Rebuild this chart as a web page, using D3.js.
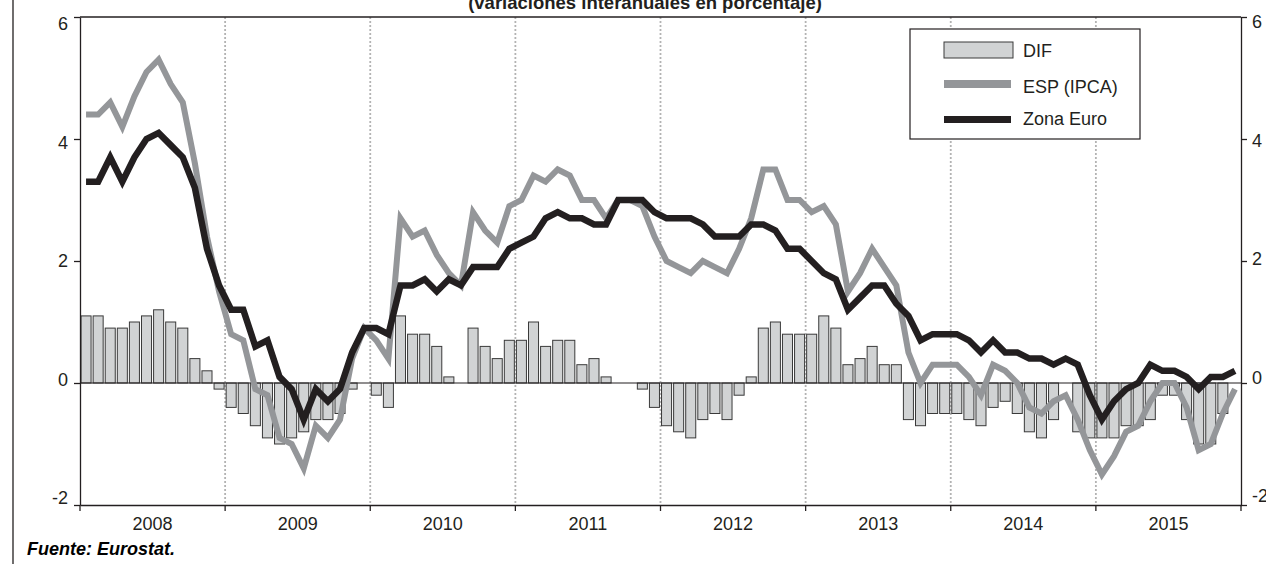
<!DOCTYPE html>
<html>
<head>
<meta charset="utf-8">
<script src="https://cdn.jsdelivr.net/npm/d3@7"></script>
<style>
  body { margin: 0; background: #fff; }
  svg { display: block; font-family: "Liberation Sans", Arial, sans-serif; }
</style>
</head>
<body>
<svg id="chart" width="1266" height="564"></svg>
<script>
// data (monthly, Jan 2008 - Dec 2015)
const years = ["2008", "2009", "2010", "2011", "2012", "2013", "2014", "2015"];
const yTicks = [-2, 0, 2, 4, 6];
const seriesNames = ["DIF", "ESP (IPCA)", "Zona Euro"];

const zonaEuro = [
  3.3, 3.3, 3.7, 3.3, 3.7, 4.0, 4.1, 3.9, 3.7, 3.2, 2.2, 1.6,
  1.2, 1.2, 0.6, 0.7, 0.1, -0.1, -0.6, -0.1, -0.3, -0.1, 0.5, 0.9,
  0.9, 0.8, 1.6, 1.6, 1.7, 1.5, 1.7, 1.6, 1.9, 1.9, 1.9, 2.2,
  2.3, 2.4, 2.7, 2.8, 2.7, 2.7, 2.6, 2.6, 3.0, 3.0, 3.0, 2.8,
  2.7, 2.7, 2.7, 2.6, 2.4, 2.4, 2.4, 2.6, 2.6, 2.5, 2.2, 2.2,
  2.0, 1.8, 1.7, 1.2, 1.4, 1.6, 1.6, 1.3, 1.1, 0.7, 0.8, 0.8,
  0.8, 0.7, 0.5, 0.7, 0.5, 0.5, 0.4, 0.4, 0.3, 0.4, 0.3, -0.2,
  -0.6, -0.3, -0.1, 0.0, 0.3, 0.2, 0.2, 0.1, -0.1, 0.1, 0.1, 0.2
];

const espIpca = [
  4.4, 4.4, 4.6, 4.2, 4.7, 5.1, 5.3, 4.9, 4.6, 3.6, 2.4, 1.5,
  0.8, 0.7, -0.1, -0.2, -0.9, -1.0, -1.4, -0.7, -0.9, -0.6, 0.4, 0.9,
  0.7, 0.4, 2.7, 2.4, 2.5, 2.1, 1.8, 1.6, 2.8, 2.5, 2.3, 2.9,
  3.0, 3.4, 3.3, 3.5, 3.4, 3.0, 3.0, 2.7, 3.0, 3.0, 2.9, 2.4,
  2.0, 1.9, 1.8, 2.0, 1.9, 1.8, 2.2, 2.7, 3.5, 3.5, 3.0, 3.0,
  2.8, 2.9, 2.6, 1.5, 1.8, 2.2, 1.9, 1.6, 0.5, 0.0, 0.3, 0.3,
  0.3, 0.1, -0.2, 0.3, 0.2, 0.0, -0.4, -0.5, -0.3, -0.2, -0.6, -1.1,
  -1.5, -1.2, -0.8, -0.7, -0.3, 0.0, 0.0, -0.4, -1.1, -1.0, -0.5, -0.1
];

const dif = [
  1.1, 1.1, 0.9, 0.9, 1.0, 1.1, 1.2, 1.0, 0.9, 0.4, 0.2, -0.1,
  -0.4, -0.5, -0.7, -0.9, -1.0, -0.9, -0.8, -0.6, -0.6, -0.5, -0.1, 0,
  -0.2, -0.4, 1.1, 0.8, 0.8, 0.6, 0.1, 0, 0.9, 0.6, 0.4, 0.7,
  0.7, 1.0, 0.6, 0.7, 0.7, 0.3, 0.4, 0.1, 0, 0, -0.1, -0.4,
  -0.7, -0.8, -0.9, -0.6, -0.5, -0.6, -0.2, 0.1, 0.9, 1.0, 0.8, 0.8,
  0.8, 1.1, 0.9, 0.3, 0.4, 0.6, 0.3, 0.3, -0.6, -0.7, -0.5, -0.5,
  -0.5, -0.6, -0.7, -0.4, -0.3, -0.5, -0.8, -0.9, -0.6, 0, -0.8, -0.9,
  -0.9, -0.9, -0.7, -0.7, -0.6, -0.2, -0.2, -0.6, -1.0, -1.0, -0.5, 0
];

const ink = "#231f20";
const barFill = "#d1d3d4";
const espColor = "#949699";

const svg = d3.select("#chart");
const width = 1266, height = 564;
const margin = { top: 17, right: 25, bottom: 59, left: 80 };
const innerW = width - margin.left - margin.right;
const innerH = height - margin.top - margin.bottom;

const months = d3.range(zonaEuro.length);
const x = d3.scaleBand().domain(months).range([0, innerW])
  .paddingInner(0.17).paddingOuter(0.085);
const xYear = d3.scaleBand().domain(years).range([0, innerW]);
const y = d3.scaleLinear().domain([-2, 6]).range([innerH, 0]);
// tick labels sit a little closer together than the ticks themselves
const yLabel = d3.scaleLinear().domain([-2, 6]).range([innerH - 7, 7]);

svg.append("rect").attr("width", width).attr("height", height).attr("fill", "#fff");

// left page rule
svg.append("line")
  .attr("x1", 13).attr("x2", 13).attr("y1", 0).attr("y2", height)
  .attr("stroke", ink).attr("stroke-width", 1.3);

// title (cut by the top edge, as in the source)
svg.append("text")
  .attr("x", 645).attr("y", 9)
  .attr("text-anchor", "middle")
  .style("font-size", "18.5px").style("font-weight", "bold").style("fill", ink)
  .text("(variaciones interanuales en porcentaje)");

const g = svg.append("g").attr("transform", `translate(${margin.left},${margin.top})`);

// dotted year separators
g.selectAll(".year-line")
  .data(years.slice(1))
  .enter().append("line")
    .attr("class", "year-line")
    .attr("x1", d => xYear(d)).attr("x2", d => xYear(d))
    .attr("y1", 0).attr("y2", innerH)
    .attr("stroke", "#b3b3b3").attr("stroke-width", 1.8)
    .attr("stroke-dasharray", "2,2");

// top frame line
g.append("line")
  .attr("x1", 0).attr("x2", innerW).attr("y1", 0).attr("y2", 0)
  .attr("stroke", ink).attr("stroke-width", 1.3);

// DIF bars
g.selectAll(".bar")
  .data(dif.map((v, i) => ({ i, v })).filter(d => d.v !== 0))
  .enter().append("rect")
    .attr("class", "bar")
    .attr("x", d => x(d.i))
    .attr("width", x.bandwidth())
    .attr("y", d => y(Math.max(0, d.v)))
    .attr("height", d => Math.abs(y(d.v) - y(0)))
    .attr("fill", barFill)
    .attr("stroke", "#3a3a3a")
    .attr("stroke-width", 1);

// zero line
g.append("line")
  .attr("x1", 0).attr("x2", innerW).attr("y1", y(0)).attr("y2", y(0))
  .attr("stroke", ink).attr("stroke-width", 1.2);

const line = d3.line()
  .x((d, i) => x(i) + x.bandwidth() / 2)
  .y(d => y(d));

g.append("path")
  .datum(espIpca)
  .attr("fill", "none")
  .attr("stroke", espColor)
  .attr("stroke-width", 6)
  .attr("d", line);

g.append("path")
  .datum(zonaEuro)
  .attr("fill", "none")
  .attr("stroke", ink)
  .attr("stroke-width", 6.5)
  .attr("d", line);

// axes
function styleAxis(sel) {
  sel.attr("font-size", null).attr("font-family", null);
  sel.selectAll("path, line").attr("stroke", ink).attr("stroke-width", 1.3);
  sel.selectAll("text").style("font-size", "18px").style("fill", ink);
}

const plainNum = d => String(d);

const leftAxis = g.append("g")
  .call(d3.axisLeft(y).tickValues(yTicks).tickFormat(plainNum)
    .tickSize(6).tickSizeOuter(0).tickPadding(6));
leftAxis.call(styleAxis);
leftAxis.selectAll("text").attr("y", d => yLabel(d) - y(d));

const rightAxis = g.append("g")
  .attr("transform", `translate(${innerW},0)`)
  .call(d3.axisRight(y).tickValues(yTicks).tickFormat(plainNum)
    .tickSize(6).tickSizeOuter(0).tickPadding(5));
rightAxis.call(styleAxis);
rightAxis.selectAll("text").attr("y", d => yLabel(d) - y(d) - 2);

const bottomAxis = g.append("g")
  .attr("transform", `translate(0,${innerH})`)
  .call(d3.axisBottom(xYear).tickSize(0).tickSizeOuter(0).tickPadding(12));
bottomAxis.call(styleAxis);

// year boundary ticks
g.selectAll(".year-tick")
  .data(years.map(d => xYear(d)).concat([innerW]))
  .enter().append("line")
    .attr("class", "year-tick")
    .attr("x1", d => d).attr("x2", d => d)
    .attr("y1", innerH).attr("y2", innerH + 6)
    .attr("stroke", ink).attr("stroke-width", 1.3);

// legend
const legend = svg.append("g").attr("transform", "translate(910,29)");
legend.append("rect")
  .attr("width", 230).attr("height", 110)
  .attr("fill", "#fff").attr("stroke", ink).attr("stroke-width", 1.2);

legend.append("rect")
  .attr("x", 34).attr("y", 13).attr("width", 69).attr("height", 16)
  .attr("fill", barFill).attr("stroke", "#3a3a3a").attr("stroke-width", 1);
legend.append("line")
  .attr("x1", 34).attr("x2", 101).attr("y1", 55).attr("y2", 55)
  .attr("stroke", espColor).attr("stroke-width", 8);
legend.append("line")
  .attr("x1", 34).attr("x2", 101).attr("y1", 90.5).attr("y2", 90.5)
  .attr("stroke", ink).attr("stroke-width", 7);

legend.selectAll(".legend-label")
  .data(seriesNames)
  .enter().append("text")
    .attr("class", "legend-label")
    .attr("x", 113)
    .attr("y", (d, i) => [27.5, 64, 96][i])
    .style("font-size", "18px").style("fill", ink)
    .text(d => d);

// source
svg.append("text")
  .attr("x", 27).attr("y", 555)
  .style("font-size", "18px").style("font-weight", "bold").style("font-style", "italic")
  .style("fill", "#000")
  .text("Fuente: Eurostat.");
</script>
</body>
</html>
